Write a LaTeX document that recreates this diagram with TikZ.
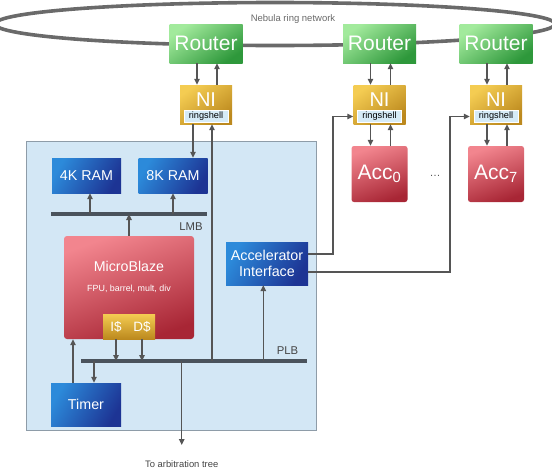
\documentclass[tikz,border=0pt]{standalone}
\usepackage{fontspec}
\setmainfont{Liberation Sans}
\usetikzlibrary{arrows.meta}

\definecolor{ringc}{HTML}{6A6A6A}
\definecolor{linec}{HTML}{555555}
\definecolor{busc}{HTML}{4A535C}
\definecolor{boardc}{HTML}{D3E7F5}
\definecolor{boardl}{HTML}{8E9CA8}
\definecolor{grnA}{HTML}{A2EA9C}
\definecolor{grnB}{HTML}{2E983B}
\definecolor{gldA}{HTML}{F4CC52}
\definecolor{gldB}{HTML}{BC891E}
\definecolor{bluA}{HTML}{2C8ADA}
\definecolor{bluB}{HTML}{1D3494}
\definecolor{redA}{HTML}{F2858E}
\definecolor{redB}{HTML}{A82635}
\definecolor{rsc}{HTML}{D6EBF7}
\definecolor{labc}{HTML}{444444}

\begin{document}
\begin{tikzpicture}[x=1pt, y=-1pt,
  router/.style={minimum width=73pt, minimum height=39pt, inner sep=0pt,
    top color=grnA, bottom color=grnB, shading angle=35, text=white,
    font=\fontsize{21}{21}\selectfont},
  nibox/.style={minimum width=52pt, minimum height=39pt, inner sep=0pt,
    top color=gldA, bottom color=gldB, shading angle=35},
  nitxt/.style={inner sep=0pt, text=white, font=\fontsize{20}{20}\selectfont},
  rshell/.style={minimum width=44pt, minimum height=12pt, inner sep=0pt,
    fill=rsc, draw=white, line width=0.6pt, font=\fontsize{9.2}{9.2}\selectfont},
  board/.style={minimum width=290pt, minimum height=289pt, inner sep=0pt,
    fill=boardc, draw=boardl, line width=0.8pt},
  blk/.style={inner sep=0pt, top color=bluA, bottom color=bluB,
    shading angle=60, text=white, align=center,
    font=\fontsize{14.3}{16}\selectfont},
  redbox/.style={inner sep=0pt, rounded corners=2.5pt, top color=redA,
    bottom color=redB, shading angle=20, text=white},
  cache/.style={minimum width=26pt, minimum height=25pt, inner sep=0pt,
    top color=gldA, bottom color=gldB, text=white,
    font=\fontsize{13.5}{13.5}\selectfont},
  arr/.style={draw=linec, line width=1.3pt, -{Triangle[length=6pt, width=5.5pt]}},
  bus/.style={draw=busc, line width=3.4pt},
  lab/.style={inner sep=0pt, text=labc}]
\useasboundingbox (0,0) rectangle (552,474);

% ring
\draw[ringc, line width=3.6pt] (275,24) ellipse [x radius=280pt, y radius=21.5pt];
\node[lab, font=\fontsize{9.5}{9.5}\selectfont, text=ringc] (ringlab) at (293,19) {Nebula ring network};

\node[router] (r1) at (206,43.5) {Router};
\node[router] (r2) at (379.5,43.5) {Router};
\node[router] (r3) at (496,43.5) {Router};

\node[nibox] (ni1) at (206,104.5) {};
\node[nibox] (ni2) at (379.5,104.5) {};
\node[nibox] (ni3) at (496,104.5) {};
\node[nitxt] (nt1) at (206,100) {NI};
\node[nitxt] (nt2) at (379.5,100) {NI};
\node[nitxt] (nt3) at (496,100) {NI};
\node[rshell] (rs1) at (206,116.5) {ringshell};
\node[rshell] (rs2) at (379.5,116.5) {ringshell};
\node[rshell] (rs3) at (496,116.5) {ringshell};

% accelerators
\node[redbox, minimum width=56pt, minimum height=56pt,
  font=\fontsize{21}{21}\selectfont] (acc0) at (379.5,174) {Acc\textsubscript{0}};
\node[redbox, minimum width=56pt, minimum height=56pt,
  font=\fontsize{21}{21}\selectfont] (acc7) at (496,174) {Acc\textsubscript{7}};
\node[lab, font=\fontsize{11}{11}\selectfont, text=linec] (dots) at (435,176) {\dots};

% tile
\node[board] (board) at (171,285.5) {};
\node[blk, minimum width=69pt, minimum height=35pt] (ram4) at (86.5,175.5) {4K RAM};
\node[blk, minimum width=69pt, minimum height=35pt] (ram8) at (173,175.5) {8K RAM};
\node[blk, minimum width=82pt, minimum height=43pt] (ai) at (267,263.5) {Accelerator\\Interface};
\node[blk, minimum width=70pt, minimum height=43pt] (timer) at (86,404.5) {Timer};
\node[redbox, rounded corners=3pt, minimum width=130pt, minimum height=103pt] (mb) at (129,287.5) {};
\node[lab, text=white, font=\fontsize{14.2}{14.2}\selectfont] (mbt) at (129,266) {MicroBlaze};
\node[lab, text=white, font=\fontsize{8.9}{8.9}\selectfont] (mbf) at (129,289) {FPU, barrel, mult, div};
\node[cache] (ic) at (116,326.5) {I\$};
\node[cache] (dc) at (142,326.5) {D\$};

% buses
\coordinate (lmbL) at (51,214);
\coordinate (lmbR) at (207,214);
\coordinate (plbL) at (81,361);
\coordinate (plbR) at (307,361);
\draw[bus] (lmbL) -- (lmbR);
\draw[bus] (plbL) -- (plbR);
\node[lab, font=\fontsize{11.3}{11.3}\selectfont] (lmb) at (191,226.5) {LMB};
\node[lab, font=\fontsize{11.3}{11.3}\selectfont] (plb) at (287.5,351) {PLB};
\coordinate (arb) at (181.7,445);
\node[lab, font=\fontsize{9.4}{9.4}\selectfont] (arblab) at (181.7,464) {To arbitration tree};
\coordinate (k2) at (333,116.5);
\coordinate (k3) at (450,116.5);

% router <-> NI
\draw[arr] ([xshift=-9pt]r1.south) -- ([xshift=-9pt]ni1.north);
\draw[arr] ([xshift=11pt]ni1.north) -- ([xshift=11pt]r1.south);
\draw[arr] ([xshift=-9pt]r2.south) -- ([xshift=-9pt]ni2.north);
\draw[arr] ([xshift=11pt]ni2.north) -- ([xshift=11pt]r2.south);
\draw[arr] ([xshift=-9pt]r3.south) -- ([xshift=-9pt]ni3.north);
\draw[arr] ([xshift=11pt]ni3.north) -- ([xshift=11pt]r3.south);
% NI <-> acc
\draw[arr] ([xshift=-9pt]ni2.south) -- ([xshift=-9pt]acc0.north);
\draw[arr] ([xshift=11pt]acc0.north) -- ([xshift=11pt]ni2.south);
\draw[arr] ([xshift=-9pt]ni3.south) -- ([xshift=-9pt]acc7.north);
\draw[arr] ([xshift=11pt]acc7.north) -- ([xshift=11pt]ni3.south);
% NI <-> tile
\draw[arr] ([xshift=-13pt]ni1.south) -- ([xshift=20pt]ram8.north);
\draw[arr] ([xshift=6pt]ni1.south |- plbL) -- ([xshift=6pt]ni1.south);
% LMB
\draw[arr] ([xshift=3.5pt]ram4.south |- lmbL) -- ([xshift=3.5pt]ram4.south);
\draw[arr] (ram8.south |- lmbL) -- (ram8.south);
\draw[arr] (mb.north) -- (mb.north |- lmbL);
% PLB
\draw[arr] (ic.south) -- (ic.south |- plbL);
\draw[arr] (dc.south) -- (dc.south |- plbL);
\draw[arr] ([xshift=8pt]timer.north |- plbL) -- ([xshift=8pt]timer.north);
\draw[arr] ([xshift=-13pt]timer.north) -- ([xshift=-13pt]timer.north |- mb.south);
\draw[arr] ([xshift=-3.7pt]ai.south |- plbL) -- ([xshift=-3.7pt]ai.south);
\draw[arr] (arb |- plbL) -- (arb);
% accelerator interface -> NI
\draw[arr] ([yshift=9.5pt]ai.east) -| (k2) -- (ni2.west |- rs2);
\draw[arr] ([yshift=-8.5pt]ai.east) -| (k3) -- (ni3.west |- rs3);
\end{tikzpicture}
\end{document}
